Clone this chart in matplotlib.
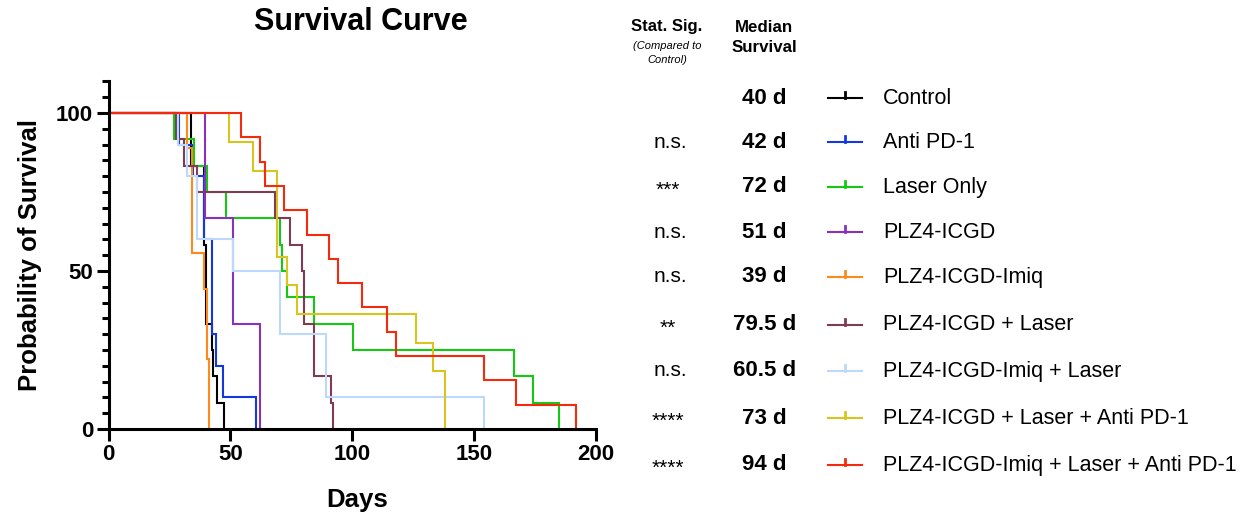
import matplotlib
matplotlib.use("Agg")
import matplotlib.pyplot as plt
from matplotlib.lines import Line2D
from matplotlib.ticker import MultipleLocator, FixedLocator

# ---------------- data ----------------
groups = ["Control", "Anti PD-1", "Laser Only", "PLZ4-ICGD", "PLZ4-ICGD-Imiq",
          "PLZ4-ICGD + Laser", "PLZ4-ICGD-Imiq + Laser",
          "PLZ4-ICGD + Laser + Anti PD-1", "PLZ4-ICGD-Imiq + Laser + Anti PD-1"]
stat_sig = ["", "n.s.", "***", "n.s.", "n.s.", "**", "n.s.", "****", "****"]
median_labels = ["40 d", "42 d", "72 d", "51 d", "39 d", "79.5 d", "60.5 d", "73 d", "94 d"]

t_control = [34, 39, 40, 42.4, 43, 44.4, 47.3]
s_control = [83.3, 58.3, 33.3, 25.0, 16.7, 8.3, 0]
t_antipd1 = [29, 34.6, 39, 42.4, 44.3, 47.1, 60.4]
s_antipd1 = [90, 80, 60, 30, 20, 10, 0]
t_laser = [27, 35.2, 40.3, 48.3, 70.3, 71.4, 73.3, 84.3, 100.3, 166.3, 174.3, 185.1]
s_laser = [91.7, 83.3, 75, 66.7, 58.3, 50, 41.7, 33.3, 25, 16.7, 8.3, 0]
t_icgd = [39.6, 51.3, 62.2]
s_icgd = [66.7, 33.3, 0]
t_imiq = [32.1, 34.2, 39.3, 40.3, 41.3]
s_imiq = [88.9, 55.6, 44.4, 22.2, 0]
t_icgd_laser = [27.8, 31, 36.3, 68.2, 74.4, 79.3, 80.3, 84.3, 91.2, 92.2]
s_icgd_laser = [91.7, 83.3, 75, 66.7, 58.3, 50, 33.3, 16.7, 8.3, 0]
t_imiq_laser = [28.4, 32.3, 36.2, 51, 70.3, 89.3, 154.2]
s_imiq_laser = [90, 80, 60, 50, 30, 10, 0]
t_icgd_laser_pd1 = [49.4, 59.2, 69.3, 73.4, 77.3, 126.3, 133.3, 138.2]
s_icgd_laser_pd1 = [90.9, 81.8, 54.5, 45.5, 36.4, 27.3, 18.2, 0]
t_imiq_laser_pd1 = [54.3, 62.2, 64.1, 72.2, 81.4, 90.4, 94.4, 104.2, 114.2, 118.2, 154.2, 167.2, 192.1]
s_imiq_laser_pd1 = [92.3, 84.6, 76.9, 69.2, 61.5, 53.8, 46.2, 38.5, 30.8, 23.1, 15.4, 7.7, 0]

all_times = [t_control, t_antipd1, t_laser, t_icgd, t_imiq, t_icgd_laser,
             t_imiq_laser, t_icgd_laser_pd1, t_imiq_laser_pd1]
all_surv = [s_control, s_antipd1, s_laser, s_icgd, s_imiq, s_icgd_laser,
            s_imiq_laser, s_icgd_laser_pd1, s_imiq_laser_pd1]

colors = ["#000000", "#1438e0", "#16c816", "#8a30c0", "#ff8a1c",
          "#803a52", "#bcd8fa", "#d8c41e", "#f42a0e"]

# ---------------- figure ----------------
W, H = 1244, 515
plt.rcParams['font.family'] = ['Liberation Sans', 'DejaVu Sans']
fig = plt.figure(figsize=(W / 100, H / 100), dpi=100)

def fx(px):
    return px / W

def fy(py):
    return 1 - py / H

ax_l, ax_r = 108.5, 595.7
ax_t, ax_b = 81.4, 429.0
ax = fig.add_axes([fx(ax_l), fy(ax_b), fx(ax_r - ax_l), (ax_b - ax_t) / H])

for t, s, c in zip(all_times, all_surv, colors):
    xs = [0] + list(t)
    ys = [100] + list(s)
    ax.step(xs, ys, where='post', color=c, lw=1.5, solid_joinstyle='miter')

ax.set_xlim(0, 200)
ax.set_ylim(0, 110)
for sp in ['top', 'right']:
    ax.spines[sp].set_visible(False)
for sp in ['left', 'bottom']:
    ax.spines[sp].set_linewidth(2.2)
ax.xaxis.set_major_locator(MultipleLocator(50))
ax.yaxis.set_major_locator(FixedLocator([0, 50, 100]))
ax.yaxis.set_minor_locator(FixedLocator([v for v in range(5, 111, 5) if v not in (50, 100)]))
ax.tick_params(axis='both', which='major', length=8.5, width=2.2, labelsize=16, pad=2.5)
ax.tick_params(axis='y', which='minor', length=4.8, width=2.2)
for lab in ax.get_xticklabels() + ax.get_yticklabels():
    lab.set_fontweight('bold')
ax.patch.set_alpha(0)

# titles
fig.text(fx(361), fy(22), "Survival Curve", ha='center', va='center',
         fontsize=22, fontweight='bold')
fig.text(fx(30), fy(255), "Probability of Survival", ha='center', va='center',
         rotation=90, fontsize=18.5, fontweight='bold')
fig.text(fx(357), fy(500), "Days", ha='center', va='center',
         fontsize=18.5, fontweight='bold')

# column headers
fig.text(fx(667), fy(26), "Stat. Sig.", ha='center', va='center',
         fontsize=12, fontweight='bold')
fig.text(fx(667), fy(46), "(Compared to", ha='center', va='center',
         fontsize=8, style='italic')
fig.text(fx(667), fy(60), "Control)", ha='center', va='center',
         fontsize=8, style='italic')
fig.text(fx(764), fy(27), "Median", ha='center', va='center',
         fontsize=12.2, fontweight='bold')
fig.text(fx(764), fy(48), "Survival", ha='center', va='center',
         fontsize=12.2, fontweight='bold')

row_y = [98, 142, 187, 232, 277, 325, 371, 418, 465]
for i, (g, sg, md, c) in enumerate(zip(groups, stat_sig, median_labels, colors)):
    y = row_y[i]
    if sg.startswith('*'):
        fig.text(fx(668), fy(y + 9), sg, ha='center', va='baseline', fontsize=15)
    elif sg:
        fig.text(fx(670), fy(y), sg, ha='center', va='center', fontsize=15)
    fig.text(fx(764.5), fy(y), md, ha='center', va='center',
             fontsize=16, fontweight='bold')
    fig.add_artist(Line2D([fx(828), fx(862)], [fy(y), fy(y)], color=c, lw=1.5,
                          transform=fig.transFigure))
    fig.add_artist(Line2D([fx(845), fx(845)], [fy(y), fy(y - 6)], color=c, lw=2,
                          transform=fig.transFigure))
    fig.text(fx(883), fy(y), g, ha='left', va='center', fontsize=15.5)

fig.savefig("out.png", dpi=100)
